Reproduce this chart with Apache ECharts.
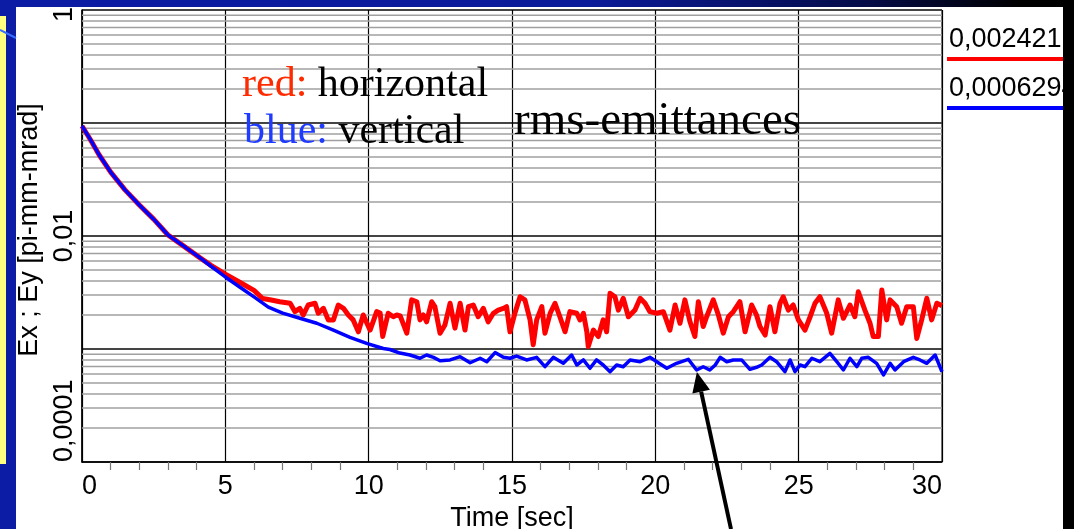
<!DOCTYPE html>
<html><head><meta charset="utf-8">
<style>
html,body{margin:0;padding:0;overflow:hidden;}
#bg{position:absolute;left:0;top:0;width:1074px;height:529px;background:linear-gradient(90deg,#0c1ca4 0%,#0b1a98 55%,#050c4a 80%,#000000 95%);}
#panel{position:absolute;left:16px;top:7px;width:1047px;height:522px;background:#ffffff;}
#yellow{position:absolute;left:0;top:16px;width:6px;height:448px;background:#ffff80;}
#black{position:absolute;left:1063px;top:0;width:11px;height:529px;background:#000;z-index:5;}
#c{position:absolute;left:0;top:0;width:1074px;height:529px;}
</style>
<script src="https://cdn.jsdelivr.net/npm/echarts@6/dist/echarts.min.js"></script>
</head><body>
<div id="bg"></div><div id="panel"></div><div id="yellow"></div>
<div id="c"></div><div id="black"></div>
<script>
// time [sec], emittance [pi-mm-mrad]
const horizontalEmittance = [[0,0.094],[0.3,0.0708],[0.6,0.0521],[1.0,0.0368],[1.5,0.0256],[2.0,0.0188],[2.5,0.0141],[3.0,0.0102],[3.5,0.0083],[4.12,0.0064],[4.5,0.0055],[5.0,0.0046],[5.5,0.0039],[6.0,0.0033],[6.3,0.0028],[6.6,0.00271],[6.9,0.00262],[7.26,0.00254],[7.43,0.00214],[7.6,0.00229],[7.72,0.0020],[7.89,0.00245],[8.13,0.00254],[8.24,0.00207],[8.42,0.00229],[8.59,0.00181],[8.77,0.00181],[8.94,0.00245],[9.12,0.00229],[9.29,0.0020],[9.46,0.00181],[9.64,0.00142],[9.81,0.0020],[10.05,0.00147],[10.28,0.00214],[10.4,0.00208],[10.49,0.00129],[10.68,0.00207],[10.86,0.00193],[10.98,0.0020],[11.1,0.00196],[11.33,0.00138],[11.5,0.00272],[11.68,0.00262],[11.79,0.00181],[11.91,0.0020],[12.02,0.00174],[12.2,0.00262],[12.31,0.00237],[12.49,0.00138],[12.66,0.00163],[12.84,0.00254],[13.01,0.00153],[13.19,0.00254],[13.36,0.00147],[13.48,0.00237],[13.65,0.00245],[13.82,0.00193],[14.0,0.00229],[14.17,0.00174],[14.35,0.00207],[14.52,0.00221],[14.7,0.00229],[14.81,0.00237],[14.93,0.00142],[15.1,0.00207],[15.28,0.0029],[15.45,0.00272],[15.63,0.00181],[15.74,0.00109],[15.86,0.00181],[16.04,0.00237],[16.15,0.00138],[16.33,0.00207],[16.5,0.00254],[16.67,0.00193],[16.85,0.00142],[17.02,0.00214],[17.26,0.00207],[17.37,0.00181],[17.49,0.00207],[17.61,0.00142],[17.66,0.00105],[17.84,0.00147],[18.01,0.00129],[18.18,0.00181],[18.3,0.00142],[18.42,0.00311],[18.59,0.0029],[18.71,0.00221],[18.88,0.00281],[19.06,0.00193],[19.29,0.00221],[19.47,0.00281],[19.64,0.00254],[19.81,0.00214],[20.05,0.00207],[20.28,0.00214],[20.51,0.00147],[20.69,0.00245],[20.86,0.00169],[21.03,0.00272],[21.21,0.00174],[21.38,0.00129],[21.5,0.00262],[21.67,0.00158],[21.79,0.00193],[22.02,0.00272],[22.2,0.0020],[22.37,0.00138],[22.55,0.00193],[22.72,0.00214],[22.95,0.00262],[23.13,0.00142],[23.36,0.00245],[23.53,0.0020],[23.65,0.00158],[23.83,0.00133],[24.0,0.00237],[24.17,0.00142],[24.35,0.00254],[24.46,0.0029],[24.64,0.00221],[24.81,0.00245],[24.99,0.00181],[25.22,0.00147],[25.4,0.00193],[25.57,0.00254],[25.74,0.0029],[25.98,0.00207],[26.15,0.00138],[26.38,0.00272],[26.56,0.00187],[26.79,0.00245],[26.96,0.00193],[27.08,0.00321],[27.31,0.00221],[27.49,0.00169],[27.6,0.00129],[27.78,0.00129],[27.9,0.00333],[28.07,0.00181],[28.19,0.00272],[28.42,0.00237],[28.59,0.00169],[28.77,0.00237],[29.0,0.00237],[29.12,0.00124],[29.29,0.00181],[29.47,0.00281],[29.64,0.00181],[29.82,0.00254],[30,0.00242]];
const verticalEmittance = [[0,0.094],[0.3,0.0708],[0.6,0.0521],[1.0,0.0368],[1.5,0.0256],[2.0,0.0188],[2.5,0.0141],[3.0,0.0102],[3.5,0.0083],[4.12,0.0064],[4.5,0.0054],[5.0,0.00434],[5.5,0.00354],[6.0,0.00289],[6.5,0.00235],[7.0,0.00208],[7.6,0.00187],[8.19,0.00169],[8.77,0.00147],[9.35,0.00127],[9.93,0.00112],[10.51,0.00101],[10.74,0.00099],[11.09,0.00092],[11.44,0.000885],[11.79,0.000828],[12.02,0.000885],[12.26,0.000844],[12.49,0.000788],[12.84,0.0008],[13.19,0.000855],[13.54,0.000756],[13.89,0.000828],[14.12,0.000772],[14.41,0.00093],[14.7,0.000844],[14.93,0.000828],[15.16,0.000866],[15.51,0.0008],[15.86,0.000844],[16.15,0.000697],[16.44,0.000844],[16.79,0.000747],[17.08,0.000885],[17.26,0.000722],[17.49,0.0008],[17.72,0.000675],[17.95,0.0008],[18.18,0.000722],[18.42,0.00063],[18.65,0.000722],[18.88,0.000697],[19.12,0.0008],[19.47,0.000772],[19.81,0.000844],[20.05,0.000772],[20.4,0.000675],[20.74,0.000747],[21.15,0.000811],[21.44,0.000652],[21.67,0.000697],[21.9,0.000652],[22.09,0.000722],[22.26,0.000844],[22.49,0.000772],[22.72,0.0008],[23.01,0.0008],[23.3,0.000661],[23.53,0.000689],[23.71,0.000722],[24.0,0.000844],[24.23,0.000772],[24.52,0.00063],[24.7,0.0008],[24.87,0.00063],[25.05,0.000722],[25.22,0.000697],[25.46,0.000828],[25.74,0.000772],[26.09,0.000916],[26.33,0.000772],[26.56,0.000652],[26.79,0.000828],[27.03,0.000697],[27.2,0.000828],[27.43,0.000844],[27.72,0.000747],[27.96,0.000589],[28.19,0.000747],[28.36,0.000652],[28.66,0.000772],[29.0,0.000844],[29.23,0.0008],[29.47,0.000747],[29.76,0.000885],[30,0.000629]];
const legendValues = ['0,002421', '0,0006294'];
const yTickLabels = {'0': '1', '-2': '0,01', '-4': '0,0001'};
const decades = [0.0001, 0.001, 0.01, 0.1];
const minorMultipliers = [2, 3, 4, 5, 6, 7, 8, 9];
const arrowTip = [21.45, 0.000625];
const arrowTail = [22.64, 0.0000255];

const SANS = '"Liberation Sans", Arial, sans-serif';
const SERIF = '"Liberation Serif", "Times New Roman", serif';

const minorGrid = [];
decades.forEach(d => minorMultipliers.forEach(m => minorGrid.push([0, +(d * m).toPrecision(3)])));

const chart = echarts.init(document.getElementById('c'), null, {renderer: 'canvas'});
const option = {
  backgroundColor: 'transparent',
  animation: false,
  grid: {left: 82, top: 10, right: 132, bottom: 67, outerBoundsMode: 'none', containLabel: false,
    show: true, borderColor: '#000', borderWidth: 1, backgroundColor: 'transparent'},
  xAxis: {
    type: 'value', min: 0, max: 30, interval: 5,
    name: 'Time [sec]', nameLocation: 'middle', nameGap: 41,
    nameTextStyle: {fontFamily: SANS, fontSize: 27, color: '#000'},
    axisLine: {show: true, lineStyle: {color: '#000', width: 1.5}},
    axisTick: {show: false},
    minorTick: {show: true, splitNumber: 5, length: 8, lineStyle: {color: '#777', width: 1.2}},
    axisLabel: {fontFamily: SANS, fontSize: 27, color: '#000', margin: 11, alignMinLabel: 'left', alignMaxLabel: 'right'},
    splitLine: {show: true, lineStyle: {color: '#000', width: 1.2}}
  },
  yAxis: {
    type: 'log', logBase: 10, min: 0.0001, max: 1, splitNumber: 4,
    name: 'Ex ; Ey [pi-mm-mrad]', nameLocation: 'middle', nameGap: 33,
    nameTextStyle: {fontFamily: SANS, fontSize: 27, color: '#000', padding: [0, 0, 0, 12]},
    axisLine: {show: true, lineStyle: {color: '#000', width: 1.5}},
    axisTick: {show: false},
    axisLabel: {
      rotate: 90, margin: 4, fontFamily: SANS, fontSize: 27, color: '#000',
      alignMinLabel: 'left',
      formatter: v => {
        const k = String(Math.round(Math.log10(v)));
        const t = yTickLabels[k];
        if (!t) return '';
        return k === '0' ? '{a|' + t + '}' : t;
      },
      rich: {a: {fontFamily: SANS, fontSize: 27, color: '#000', padding: [0, 9, 0, 0]}}
    },
    splitLine: {show: true, lineStyle: {color: '#444', width: 2}}
  },
  series: [
    {type: 'custom', name: 'minorGrid', data: minorGrid, silent: true, z: 1, clip: false,
      renderItem: (params, api) => {
        const v = api.value(1);
        const p1 = api.coord([0, v]);
        const p2 = api.coord([30, v]);
        return {type: 'line', shape: {x1: p1[0], y1: p1[1], x2: p2[0], y2: p2[1]},
          style: {stroke: '#a0a0a0', lineWidth: 1.5}};
      }},
    {type: 'line', name: 'horizontal', data: horizontalEmittance, symbol: 'none', z: 3,
      lineStyle: {color: '#ff0000', width: 5, join: 'round'}},
    {type: 'line', name: 'vertical', data: verticalEmittance, symbol: 'none', z: 4,
      lineStyle: {color: '#0000ff', width: 3.5, join: 'round'}}
  ],
  graphic: [
    {id: 'deco', type: 'line', shape: {x1: 0, y1: 30, x2: 16, y2: 38}, style: {stroke: '#3a6cff', lineWidth: 2}, z: 50},
    {id: 't1', type: 'text', x: 242, y: 64, z: 50, style: {text: '{r|red: }{k|horizontal}', verticalAlign: 'top',
      rich: {r: {fill: '#ff2b00', font: '42px ' + SERIF}, k: {fill: '#000', font: '42px ' + SERIF}}}},
    {id: 't2', type: 'text', x: 244, y: 111, z: 50, style: {text: '{b|blue: }{k|vertical}', verticalAlign: 'top',
      rich: {b: {fill: '#1f3bff', font: '42px ' + SERIF}, k: {fill: '#000', font: '42px ' + SERIF}}}},
    {id: 't3', type: 'text', x: 514, y: 98, z: 50, style: {text: 'rms-emittances', verticalAlign: 'top', fill: '#000', font: '47px ' + SERIF}},
    {id: 'l1', type: 'text', x: 949, y: 26, z: 50, style: {text: legendValues[0], verticalAlign: 'top', fill: '#000', font: '27px ' + SANS}},
    {id: 'l1l', type: 'line', shape: {x1: 947, y1: 59, x2: 1070, y2: 59}, style: {stroke: '#ff0000', lineWidth: 4}, z: 50},
    {id: 'l2', type: 'text', x: 949, y: 75, z: 50, style: {text: legendValues[1], verticalAlign: 'top', fill: '#000', font: '27px ' + SANS}},
    {id: 'l2l', type: 'line', shape: {x1: 947, y1: 108, x2: 1070, y2: 108}, style: {stroke: '#0000ff', lineWidth: 4}, z: 50}
  ]
};
chart.setOption(option);

const tip = chart.convertToPixel({gridIndex: 0}, arrowTip);
const tail = chart.convertToPixel({gridIndex: 0}, arrowTail);
const dx = tip[0] - tail[0], dy = tip[1] - tail[1];
const len = Math.sqrt(dx * dx + dy * dy);
const ux = dx / len, uy = dy / len;
const headLen = 20, headHalf = 9;
const bx = tip[0] - ux * headLen, by = tip[1] - uy * headLen;
chart.setOption({graphic: [
  {id: 'arrowShaft', type: 'line', z: 60, shape: {x1: tail[0], y1: tail[1], x2: bx, y2: by}, style: {stroke: '#000', lineWidth: 4}},
  {id: 'arrowHead', type: 'polygon', z: 60, shape: {points: [[tip[0], tip[1]], [bx - uy * headHalf, by + ux * headHalf], [bx + uy * headHalf, by - ux * headHalf]]}, style: {fill: '#000'}}
]});
</script>
</body></html>
